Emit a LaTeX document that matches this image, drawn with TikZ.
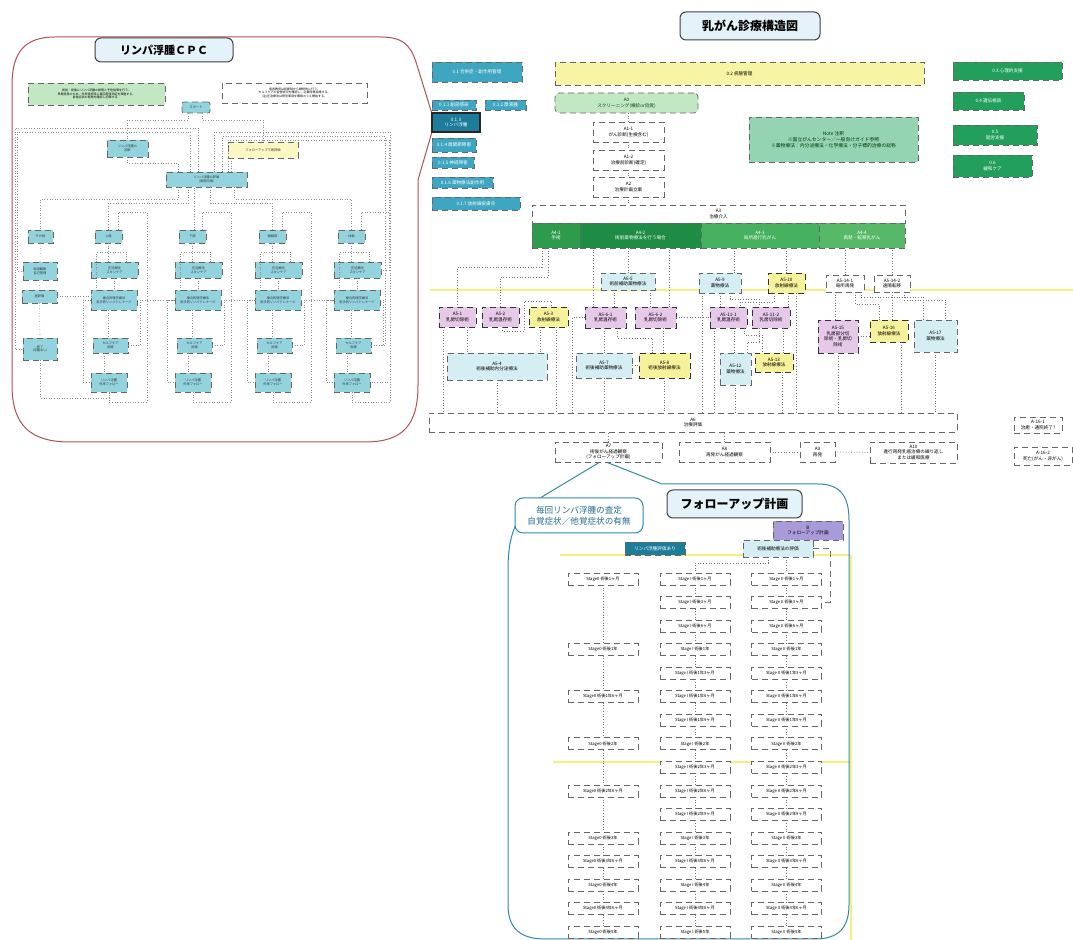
\documentclass[tikz,border=0pt]{standalone}
\usepackage{fontspec}
\setmainfont{Noto Sans CJK JP}
\usetikzlibrary{calc}
\usetikzlibrary{positioning}

\definecolor{tealfill}{HTML}{3EA6C0}
\definecolor{tealdk}{HTML}{1C7C9A}
\definecolor{barfill}{HTML}{F7F5A3}
\definecolor{palegreen}{HTML}{C2E7C3}
\definecolor{mint}{HTML}{95D4B3}
\definecolor{deepgreen}{HTML}{22A05B}
\definecolor{gA}{HTML}{2E9B4C}
\definecolor{gB}{HTML}{1F8C45}
\definecolor{gC}{HTML}{45B05E}
\definecolor{gD}{HTML}{57B968}
\definecolor{pinkfill}{HTML}{E6C9E9}
\definecolor{bluefill}{HTML}{D4EEF3}
\definecolor{ylwfill}{HTML}{F6F29B}
\definecolor{cpcfill}{HTML}{92D3DE}
\definecolor{titlefill}{HTML}{E4F3F9}
\definecolor{cpcred}{HTML}{B5524F}
\definecolor{fublue}{HTML}{2E89B0}
\definecolor{purplefill}{HTML}{A99BDA}
\definecolor{scan}{HTML}{F4F080}

\newcommand{\fsz}[2]{\fontsize{#1}{#2}\selectfont}
\newcommand{\mkbox}[7]{%
  \pgfmathsetmacro\bw{((#5)-(#3))*0.5}%
  \pgfmathsetmacro\bh{((#6)-(#4))*0.5}%
  \node[#2, minimum width=\bw pt, minimum height=\bh pt] (#1) at ({((#3)+(#5))/2},{((#4)+(#6))/2}) {#7};%
}

\tikzset{
  base/.style={inner sep=0pt, outer sep=0pt, align=center, draw=black!60, densely dashed, line width=0.35pt, font=\fsz{2.3}{2.8}},
  tealbox/.style={base, fill=tealfill, text=white},
  tealdark/.style={base, fill=tealdk, text=white, solid, draw=black!85, line width=0.6pt},
  barbox/.style={base, fill=barfill},
  greenbox/.style={base, fill=deepgreen, text=white},
  a0box/.style={base, rounded corners=2pt, fill=palegreen, text=green!25!black},
  notebox/.style={base, fill=mint, text=green!20!black, font=\fsz{2.4}{3.1}},
  whitebox/.style={base, fill=white},
  bandbox/.style={base, text=white},
  pinkbox/.style={base, fill=pinkfill, draw=black!80},
  bluebox/.style={base, fill=bluefill},
  ylwbox/.style={base, fill=ylwfill, draw=black!80},
  titlebox/.style={inner sep=0pt, outer sep=0pt, draw=black!75, line width=0.5pt, rounded corners=3pt, fill=titlefill, font=\fsz{6}{7}\bfseries},
  cpcbox/.style={base, fill=cpcfill, text=black!80, font=\fsz{1.6}{1.9}},
  cpcnote/.style={base, font=\fsz{1.5}{1.9}},
  stagebox/.style={base, fill=white, font=\fsz{2.1}{2.5}},
  link/.style={draw=black!55, densely dotted, line width=0.35pt},
  thinlink/.style={draw=black!45, densely dotted, line width=0.3pt},
  scanline/.style={draw=scan, line width=0.6pt},
}

\begin{document}
\begin{tikzpicture}[x=0.5pt, y=-0.5pt]
\useasboundingbox (0,0) rectangle (1073,940);
\fill[white] (0,0) rectangle (1073,940);

% scanner lines
\draw[scanline] (430,290) -- (1073,290);
\draw[scanline] (560,555) -- (850,555);
\draw[scanline] (553,762) -- (850,762);
\draw[scanline] (851,555) -- (851,940);

% callouts
\draw[cpcred, line width=0.5pt] (433,117) -- (416,62) .. controls (410,44) and (402,37) .. (380,37)
  -- (55,37) .. controls (25,37) and (12,52) .. (12,85) -- (12,385) .. controls (12,425) and (30,442) .. (70,442)
  -- (365,442) .. controls (403,442) and (418,425) .. (418,385) -- (418,180) -- (434,125);
\draw[fublue, line width=0.5pt] (600,462) -- (545,495) .. controls (518,512) and (508,530) .. (508,570)
  -- (508,905) .. controls (508,928) and (520,939) .. (545,939) -- (815,939)
  .. controls (838,939) and (849,928) .. (849,905) -- (849,520) .. controls (849,496) and (840,484) .. (818,484)
  -- (662,484) -- (606,462);

% main titles
\mkbox{title}{titlebox}{680}{12}{820}{40}{乳がん診療構造図}
\mkbox{cpctitle}{titlebox, font=\fsz{5.5}{6.5}\bfseries}{95}{38}{233}{62}{リンパ浮腫ＣＰＣ}
\mkbox{futitle}{titlebox}{667}{490}{802}{518}{フォローアップ計画}

% left list
\mkbox{mgmt}{tealbox}{432}{62}{522}{82}{0.1 合併症・副作用管理}
\mkbox{c1}{tealbox}{432}{100}{476}{110}{0.1.1 創部感染}
\mkbox{c2}{tealbox}{485}{100}{526}{110}{0.1.2 漿液腫}
\mkbox{c3}{tealdark}{432}{113}{480}{132}{0.1.3\\リンパ浮腫}
\mkbox{c4}{tealbox}{432}{138}{476}{152}{0.1.4 肩関節障害}
\mkbox{c5}{tealbox}{432}{157}{474}{168}{0.1.5 神経障害}
\mkbox{c6}{tealbox}{432}{177}{493}{188}{0.1.6 薬物療法副作用}
\mkbox{c7}{tealbox}{432}{197}{520}{210}{0.1.7 放射線皮膚炎}

\mkbox{path}{barbox}{555}{62}{924}{85}{0.2 病態管理}
\mkbox{s1}{greenbox}{953}{62}{1062}{80}{0.3 心理的支援}
\mkbox{s2}{greenbox}{953}{92}{1024}{110}{0.4 遺伝相談}
\mkbox{s3}{greenbox}{953}{125}{1037}{145}{0.5\\就労支援}
\mkbox{s4}{greenbox}{953}{155}{1032}{177}{0.6\\緩和ケア}

\mkbox{a0}{a0box}{555}{93}{698}{113}{A0\\スクリーニング(検診or自覚)}
\mkbox{a11}{whitebox}{593}{122}{664}{142}{A1-1\\がん診断(生検含む)}
\mkbox{a12}{whitebox}{593}{150}{664}{170}{A1-2\\治療前診断(確定)}
\mkbox{a2}{whitebox}{593}{177}{664}{197}{A2\\治療計画立案}
\mkbox{note}{notebox}{749}{117}{918}{162}{Note 注釈\\※国立がんセンター／一般向けガイド参照\\※薬物療法：内分泌療法・化学療法・分子標的治療の総称}

\mkbox{a3}{whitebox}{532}{205}{905}{223}{A3\\治療介入}
\mkbox{a41}{bandbox, fill=gA}{532}{223}{580}{248}{A4-1\\手術}
\mkbox{a42}{bandbox, fill=gB}{580}{223}{701}{248}{A4-2\\術前薬物療法を行う場合}
\mkbox{a43}{bandbox, fill=gC}{701}{223}{819}{248}{A4-3\\局所進行乳がん}
\mkbox{a44}{bandbox, fill=gD}{819}{223}{905}{248}{A4-4\\再発・転移乳がん}

\mkbox{a55}{bluebox}{601}{273}{655}{290}{A5-5\\術前補助薬物療法}
\mkbox{a59}{bluebox}{699}{273}{741}{293}{A5-9\\薬物療法}
\mkbox{a510}{ylwbox}{768}{273}{805}{293}{A5-10\\放射線療法}
\mkbox{a5141}{whitebox}{826}{275}{864}{292}{A5-14-1\\局所再発}
\mkbox{a5142}{whitebox}{874}{275}{910}{292}{A5-14-2\\遠隔転移}

\mkbox{a51}{pinkbox}{439}{307}{476}{327}{A5-1\\乳房切除術}
\mkbox{a52}{pinkbox}{482}{307}{519}{327}{A5-2\\乳房温存術}
\mkbox{a53}{ylwbox}{529}{307}{568}{327}{A5-3\\放射線療法}
\mkbox{a561}{pinkbox}{585}{307}{626}{328}{A5-6-1\\乳房温存術}
\mkbox{a562}{pinkbox}{635}{307}{676}{328}{A5-6-2\\乳房切除術}
\mkbox{a5111}{pinkbox}{710}{307}{747}{328}{A5-11-1\\乳房温存術}
\mkbox{a5112}{pinkbox}{752}{307}{790}{328}{A5-11-2\\乳房切除術}
\mkbox{a515}{pinkbox}{818}{320}{858}{353}{A5-15\\乳房部分切\\除術・乳房切\\除術}
\mkbox{a516}{ylwbox}{870}{320}{908}{342}{A5-16\\放射線療法}
\mkbox{a517}{bluebox}{914}{320}{957}{352}{A5-17\\薬物療法}

\mkbox{a54}{bluebox}{447}{353}{547}{380}{A5-4\\術後補助内分泌療法}
\mkbox{a57}{bluebox}{576}{353}{632}{378}{A5-7\\術後補助薬物療法}
\mkbox{a58}{ylwbox}{639}{353}{690}{378}{A5-8\\術後放射線療法}
\mkbox{a512}{bluebox}{720}{353}{751}{385}{A5-12\\薬物療法}
\mkbox{a513}{ylwbox}{755}{353}{793}{372}{A5-13\\放射線療法}

\mkbox{a6}{whitebox}{429}{413}{957}{432}{A6\\治療評価}
\mkbox{a7}{whitebox}{555}{442}{662}{462}{A7\\術後がん経過観察\\(フォローアップ計画)}
\mkbox{a8}{whitebox}{679}{442}{770}{462}{A8\\再発がん経過観察}
\mkbox{a9}{whitebox}{800}{442}{835}{462}{A9\\再発}
\mkbox{a10}{whitebox}{870}{442}{957}{463}{A10\\進行再発乳癌治療の繰り返し\\または緩和医療}
\mkbox{a161}{whitebox}{1014}{417}{1062}{433}{A-16-1\\治癒・通院終了?}
\mkbox{a162}{whitebox}{1014}{447}{1072}{465}{A-16-2\\死亡(がん・非がん)}

\draw[link] (a0.south -| a11.north) -- (a11.north);
\draw[link] (a11.south) -- (a12.north);
\draw[link] (a12.south) -- (a2.north);
\draw[link] (a2.south) -- (a2.south |- a3.north);
\draw[link] ([xshift=-7pt]a41.south) -- ++(0,19) -| (a51.north);
\draw[link] ([xshift=-4pt]a41.south) -- ++(0,29) -| (a52.north);
\draw[link] ([xshift=1pt]a52.south) -- ++(0,4) -- ++(22,0) -- ++(0,-30) -| ([xshift=1.25pt]a53.north);
\draw[link] ([xshift=-6pt]a561.north) -- ++(0,-59);
\draw[link] (a55.north) -- ++(0,-25);
\draw[link] ([xshift=7pt]a562.north) -- ++(0,-59);
\draw[link] ([xshift=-7pt]a55.south) -- ++(0,17);
\draw[link] ([xshift=11pt]a55.south) -- ++(0,17);
\draw[link] (a561.west) -- ++(-13,0) -- ++(0,95.5);
\draw[link] (a57.north) -- (a57.north |- a561.south);
\draw[link] ([xshift=6pt]a561.south) -- ++(0,10) -| ([xshift=-6pt]a58.north);
\draw[link] ([xshift=4pt]a562.south) -- ++(0,26);
\draw[link] (a562.east) -- (a562.east -| a5111.west);
\draw[link] (a57.east) -- (a58.west);
\draw[link] ([xshift=-7pt]a51.south) -- ++(0,86);
\draw[link] ([xshift=5pt]a51.south) -- ++(0,26);
\draw[link] ([xshift=-4pt]a53.south) -- ++(0,26);
\draw[link] ([xshift=4pt]a53.south) -- ++(0,86);
\draw[link] (a54.south) -- ++(0,33);
\draw[link] (a57.south) -- ++(0,35);
\draw[link] (a58.south) -- ++(0,35);
\draw[link] ([xshift=7pt]a59.north) -- ++(0,-25);
\draw[link] (a510.north) -- ++(0,-25);
\draw[link] ([xshift=-9pt]a59.south) -- ++(0,120);
\draw[link] (a59.south) -- ++(0,14);
\draw[link] ([xshift=5pt]a59.south) -- ++(0,6) -| ([xshift=-6pt]a5112.north);
\draw[link] ([xshift=-6pt]a510.south) -- ++(0,9) -| ([xshift=6pt]a5111.north);
\draw[link] ([xshift=1pt]a510.south) -- ++(0,14);
\draw[link] ([xshift=5pt]a510.south) -- ++(0,120);
\draw[link] ([xshift=3pt]a5111.south) -- ++(0,25);
\draw[link] ([xshift=-7.25pt]a5111.south) -- ++(0,85);
\draw[link] ([xshift=8pt]a5111.south) -- ++(0,7) -| ([xshift=-6pt]a513.north);
\draw[link] ([xshift=-6pt]a5112.south) -- ++(0,14) -| ([xshift=6pt]a512.north);
\draw[link] ([xshift=6pt]a5112.south) -- ++(0,25);
\draw[link] (a512.south) -- ++(0,28);
\draw[link] ([xshift=4pt]a513.south) -- ++(0,41);
\draw[link] (a5141.north) -- ++(0,-27);
\draw[link] (a5142.north) -- ++(0,-27);
\draw[link] ([xshift=-5pt]a5141.south) -- ++(0,28);
\draw[link] ([xshift=5pt]a5141.south) -- ++(0,12) -| ([xshift=-5pt]a516.north);
\draw[link] ([xshift=8pt]a5141.south) -- ++(0,5) -| ([xshift=-6pt]a517.north);
\draw[link] (a5142.south) -- ++(0,28);
\draw[link] ([xshift=6pt]a5142.south) -- ++(0,8) -| ([xshift=5pt]a517.north);
\draw[link] (a515.east) -- (a515.east -| a516.west);
\draw[link] (a515.south) -- ++(0,60);
\draw[link] ([xshift=6pt]a516.south) -- ++(0,71);
\draw[link] (a517.south) -- ++(0,61);
\draw[link] (a7.north) -- (a7.north |- a6.south);
\draw[link] (a8.north) -- (a8.north |- a6.south);
\draw[link] (a8.east) -- (a9.west);
\draw[link] (a9.east) -- (a10.west);

% lymphedema CPC panel
\mkbox{gnote}{cpcnote, fill=palegreen}{28}{83}{165}{105}{術前・術後にリンパ浮腫の説明と予防指導を行う。\\早期発見のため、外来受診時に毎回周径測定を実施する。\\自覚症状の有無を確認し記録する。}
\mkbox{wnote}{cpcnote, fill=white}{222}{83}{367}{103}{患者教育は診断時から継続的に行う。\\セルフケアの習得状況を確認し、必要時再指導する。\\(注)圧迫療法は禁忌事項を確認のうえ開始する。}
\mkbox{start}{cpcbox, rounded corners=1pt}{182}{102}{210}{113}{スタート}
\mkbox{diag}{cpcbox}{107}{140}{148}{157}{リンパ浮腫の\\診断}
\mkbox{fuy}{cpcbox, fill=ylwfill!60}{228}{142}{298}{158}{フォローアップで再評価}
\mkbox{cen}{cpcbox}{166}{172}{247}{187}{リンパ浮腫の評価\\(病期分類)}

\mkbox{ha}{cpcbox}{28}{230}{53}{243}{その他}
\mkbox{r1a}{cpcbox}{23}{262}{57}{280}{経過観察\\自己管理}
\mkbox{r2a}{cpcbox}{22}{290}{57}{303}{再評価}
\mkbox{r3a}{cpcbox}{23}{338}{57}{360}{終了\\(浮腫なし)}
\draw[thinlink] (ha.south) -- (r1a.north);
\draw[thinlink] (r1a.south) -- (r2a.north);
\draw[thinlink] (r2a.south) -- (r3a.north);

\foreach \k/\lx/\hd [count=\i] in {b/91/上肢, c/175/下肢, d/255/頭頸部, e/334/体幹}{
  \mkbox{h\k}{cpcbox}{\lx+4}{230}{\lx+31}{243}{\hd}
  \mkbox{r1\k}{cpcbox}{\lx}{262}{\lx+47}{278}{圧迫療法\\スキンケア}
  \mkbox{r2\k}{cpcbox}{\lx}{290}{\lx+46}{310}{複合的理学療法\\用手的リンパドレナージ}
  \mkbox{r3\k}{cpcbox}{\lx+2}{338}{\lx+37}{353}{セルフケア\\指導}
  \mkbox{r4\k}{cpcbox}{\lx}{373}{\lx+36}{392}{リンパ浮腫\\外来フォロー}
  \draw[thinlink] (h\k.south) -- (h\k.south |- r1\k.north);
  \draw[thinlink] (r1\k.south) -- (r1\k.south |- r2\k.north);
  \draw[thinlink] ([xshift=-3pt]r2\k.south) -- ++(0,28);
  \draw[thinlink] ([xshift=-3pt]r3\k.south) -- ++(0,20);
  \draw[thinlink] (r2\k.west) -- ++(-8,0) |- (r4\k.west);
  \draw[thinlink] (r3\k.east) -- ++(12,0) |- (r2\k.east);
  \draw[thinlink] (r4\k.south) -- ++(0,10) -- ++(38,0) -- ++(0,-190) -| ([xshift=5pt]h\k.north);
  \draw[thinlink] ([xshift=6pt]r1\k.north) -- ++(0,-10) -| ++(-30,40);
}
\draw[thinlink] (r2a.east) -- (r2a.east -| r2b.west);
\draw[thinlink] (r2b.east) -- (r2b.east -| r2c.west);
\draw[thinlink] (r2c.east) -- (r2c.east -| r2d.west);
\draw[thinlink] (r2d.east) -- (r2d.east -| r2e.west);

\draw[thinlink] ([xshift=-4pt]start.south) -- ++(0,7) -| (diag.north);
\draw[thinlink] ([xshift=3pt]start.south) -- ++(0,7) -| (fuy.north);
\draw[thinlink] (diag.south) -- ++(0,6) -| ([xshift=-14.25pt]cen.north);
\draw[thinlink] ([xshift=-16pt]fuy.south) -- ++(0,14);
\draw[thinlink] ([xshift=-14pt]cen.south) -- ++(0,12) -| (ha.north);
\draw[thinlink] ([xshift=-9pt]cen.south) -- ++(0,16) -| (hb.north);
\draw[thinlink] ([xshift=-6pt]cen.south |- hc.north) -- ([xshift=-6pt]cen.south);
\draw[thinlink] ([xshift=2pt]cen.south) -- ++(0,16) -| (hd.north);
\draw[thinlink] ([xshift=14pt]cen.south) -- ++(0,12) -| (he.north);
\draw[thinlink] ([xshift=-4pt]cen.north) -- ++(0,-44) -| ([xshift=-4pt]r3a.west) -- (r3a.west);
\draw[thinlink] ([xshift=-8pt]cen.north) -- ++(0,-40) -| ([xshift=-3pt]r1a.west) -- (r1a.west);
\draw[thinlink] ([xshift=4pt]cen.north) -- ++(0,-40) -| ([xshift=10pt]r4e.east) -- (r4e.east);
\draw[thinlink] ([xshift=8pt]cen.north) -- ++(0,-36) -| ([xshift=7pt]r3e.east) -- (r3e.east);
\draw[thinlink] ([xshift=11pt]cen.north) -- ++(0,-32) -| ([xshift=4pt]r1e.east) -- (r1e.east);
\draw[thinlink] (r3a.south) -- ++(0,38) -| (r4b.south);

% follow-up plan
\mkbox{fuann}{base, solid, draw=fublue, line width=0.5pt, rounded corners=4pt, fill=white, text=fublue!80!black, font=\fsz{4.3}{5.6}}{515}{498}{643}{533}{毎回リンパ浮腫の査定\\自覚症状／他覚症状の有無}
\mkbox{fuplan}{base, fill=purplefill}{773}{521}{843}{540}{B\\フォローアップ計画}
\mkbox{fulym}{base, fill=tealdk, text=white}{625}{542}{685}{555}{リンパ浮腫評価あり}
\mkbox{fuadj}{base, fill=bluefill}{743}{540}{813}{557}{術後補助療法の評価}

\foreach \r/\t in {1/1ヶ月, 4/1年, 6/1年6ヶ月, 8/2年, 10/2年6ヶ月, 12/3年, 13/3年6ヶ月, 14/4年, 15/4年6ヶ月, 16/5年}{
  \pgfmathsetmacro\cy{579+(\r-1)*23.55}
  \mkbox{s1-\r}{stagebox}{568}{\cy-6}{638}{\cy+6}{Stage0 術後\t}
}
\foreach \c/\st/\cx in {2/I/695, 3/II/786.5}{
  \foreach \t [count=\i] in {1ヶ月,3ヶ月,6ヶ月,1年,1年3ヶ月,1年6ヶ月,1年9ヶ月,2年,2年3ヶ月,2年6ヶ月,2年9ヶ月,3年,3年6ヶ月,4年,4年6ヶ月,5年}{
    \pgfmathsetmacro\cy{579+(\i-1)*23.55}
    \mkbox{s\c-\i}{stagebox}{\cx-35}{\cy-6}{\cx+35}{\cy+6}{Stage \st\ 術後\t}
  }
}
\foreach \a/\b in {1/4, 4/6, 6/8, 8/10, 10/12, 12/13, 13/14, 14/15, 15/16}{
  \draw[link] (s1-\a.south) -- (s1-\b.north);
}
\foreach \c in {2,3}{
  \foreach \i [evaluate=\i as \j using int(\i+1)] in {1,...,15}{
    \draw[link] (s\c-\i.south) -- (s\c-\j.north);
  }
}
\draw[link] (fuadj.south -| s3-1.north) -- (s3-1.north);
\draw[link] ([xshift=-5pt]fuadj.south) -- ++(0,6) -| (s2-1.north);
\draw[draw=black!55, densely dashed, line width=0.4pt] (fuadj.east) -- ++(17,0) |- (s3-2.east);

\end{tikzpicture}
\end{document}
